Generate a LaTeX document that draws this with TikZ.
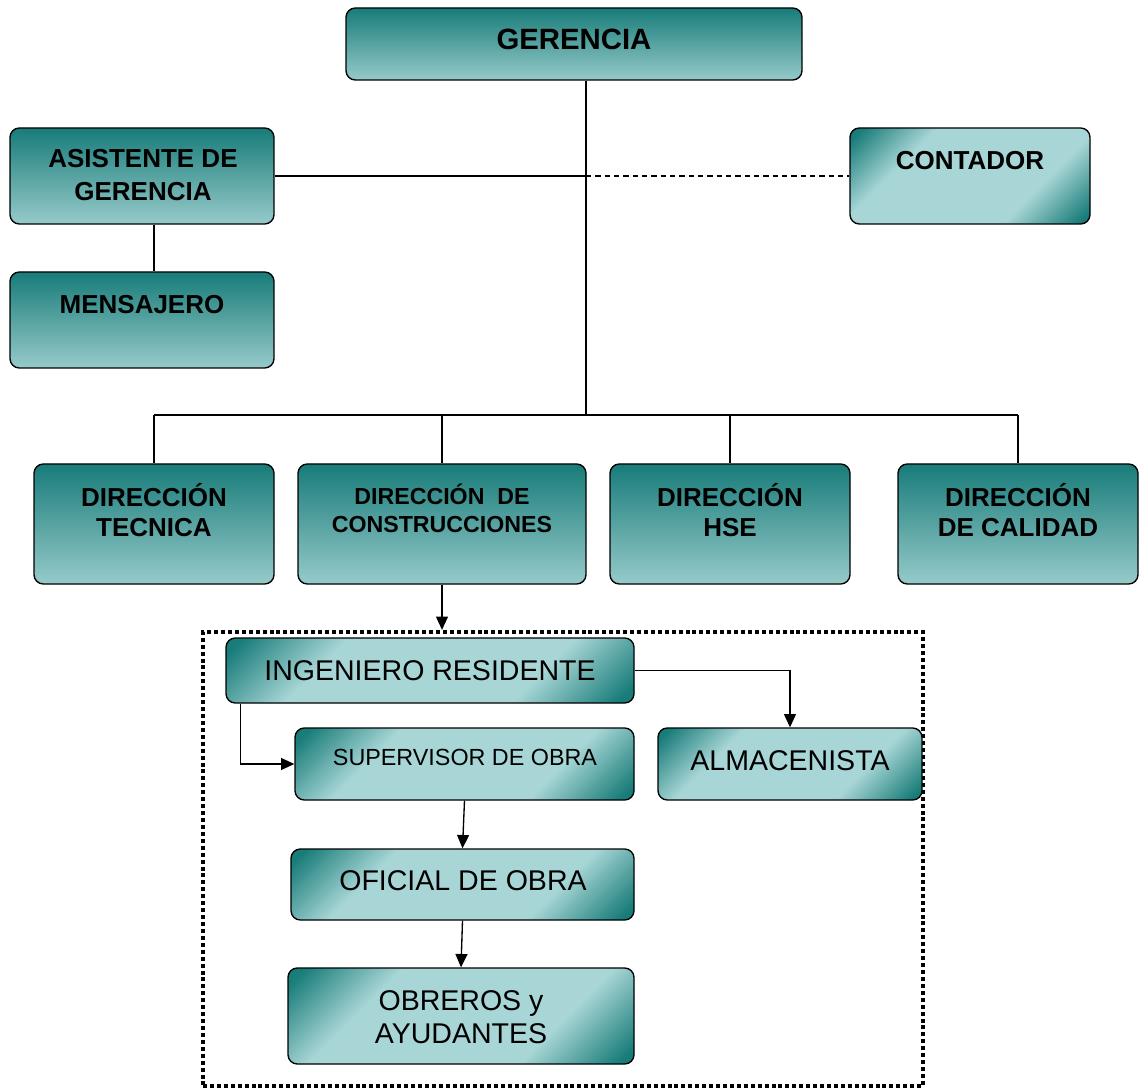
\documentclass[tikz,border=0pt]{standalone}
\usepackage{fontspec}
\setmainfont{Liberation Sans}
\usetikzlibrary{arrows.meta,calc}
\definecolor{tealD}{RGB}{24,124,121}
\definecolor{tealL}{RGB}{150,202,202}
\definecolor{tealM}{RGB}{168,214,214}
\pgfdeclareverticalshading{diagonal}{100bp}{color(0bp)=(tealD); color(17bp)=(tealD);
  color(33bp)=(tealM); color(67bp)=(tealM); color(83bp)=(tealD); color(100bp)=(tealD)}
\tikzset{
  sz/.style 2 args={minimum width=#1*0.75pt, minimum height=#2*0.75pt},
  cargo/.style={draw=black, line width=1pt, rounded corners=7pt, inner sep=0pt},
  cargoV/.style={cargo, top color=tealD, bottom color=tealL},
  cargoD/.style={cargo, shading=diagonal, shading angle=45},
  tit/.style={font=\bfseries\fontsize{19.5}{24.4}\selectfont, align=center, inner sep=0pt},
  txt/.style={font=\fontsize{21.4}{24.75}\selectfont, align=center, inner sep=0pt},
  linea/.style={line width=1pt},
  flecha/.style={line width=1pt, -{Triangle[length=10pt,width=9pt]}},
}
\begin{document}
\begin{tikzpicture}[x=0.75pt,y=-0.75pt]
\useasboundingbox (0,0) rectangle (1140,1091);
\coordinate(bus) at (586,415);

\node(ger) at (574,44)[cargoV,sz={456}{72}] {};
\node(asis) at (142,176)[cargoV,sz={264}{96}] {};
\node(con) at (970,176)[cargoD,sz={240}{96}] {};
\node(men) at (142,320)[cargoV,sz={264}{96}] {};
\node(tec) at (154,524)[cargoV,sz={240}{120}] {};
\node(cons) at (442,524)[cargoV,sz={288}{120}] {};
\node(hse) at (730,524)[cargoV,sz={240}{120}] {};
\node(cal) at (1018,524)[cargoV,sz={240}{120}] {};
\node(marco) at (563,859)[draw,line width=3.2pt,dash pattern=on 3pt off 2.2pt,sz={720}{454}] {};
\node(ing) at (430,670.5)[cargoD,sz={408}{65}] {};
\node(sup) at (464.5,764)[cargoD,sz={339}{72}] {};
\node(alm) at (790,764)[cargoD,sz={264}{72}] {};
\node(ofi) at (462.5,884.5)[cargoD,sz={343}{71}] {};
\node(obr) at (461,1016)[cargoD,sz={346}{96}] {};

\node(gerT) at (574,39)[tit,font=\bfseries\fontsize{22}{26}\selectfont] {GERENCIA};
\node(asisT) at (143,175)[tit] {ASISTENTE DE\\GERENCIA};
\node(conT) at (970,161)[tit] {CONTADOR};
\node(menT) at (142,305)[tit] {MENSAJERO};
\node(tecT) at (154,510)[tit,font=\bfseries\fontsize{19.5}{22.5}\selectfont] {DIRECCIÓN\\TECNICA};
\node(consT) at (442,508)[tit,font=\bfseries\fontsize{17.4}{21}\selectfont] {DIRECCIÓN~ DE\\CONSTRUCCIONES};
\node(hseT) at (730,510)[tit,font=\bfseries\fontsize{19.5}{22.5}\selectfont] {DIRECCIÓN\\HSE};
\node(calT) at (1018,510)[tit,font=\bfseries\fontsize{19.5}{22.5}\selectfont] {DIRECCIÓN\\DE CALIDAD};
\node(ingT) at (430,671)[txt] {INGENIERO RESIDENTE};
\node(supT) at (465,757)[txt,font=\fontsize{17.5}{21}\selectfont] {SUPERVISOR DE OBRA};
\node(almT) at (790,761)[txt] {ALMACENISTA};
\node(ofiT) at (463,881)[txt] {OFICIAL DE OBRA};
\node(obrT) at (461,1017.5)[txt] {OBREROS y\\AYUDANTES};

\path [linea]
  (bus |- ger.south)  edge  (bus)
  (tec |- bus)        edge  (cal |- bus)
  (tec |- bus)        edge  (tec.north)
  (cons |- bus)       edge  (cons.north)
  (hse |- bus)        edge  (hse.north)
  (cal |- bus)        edge  (cal.north)
  (asis.east)         edge  (bus |- asis.east)
  (tec |- asis.south) edge  (tec |- men.north);
\draw [linea,dash pattern=on 4pt off 3pt] (bus |- asis.east) -- (con.west);

\draw [flecha] (cons.south) -- (cons.south |- marco.north);
\draw [flecha] (ing.east) -| (alm.north);
\draw [flecha] ($(ing.south west)+(15,0)$) |- (sup.west);
\draw [flecha] (sup.south) -- (ofi.north);
\draw [flecha] (ofi.south) -- (obr.north);
\end{tikzpicture}
\end{document}
